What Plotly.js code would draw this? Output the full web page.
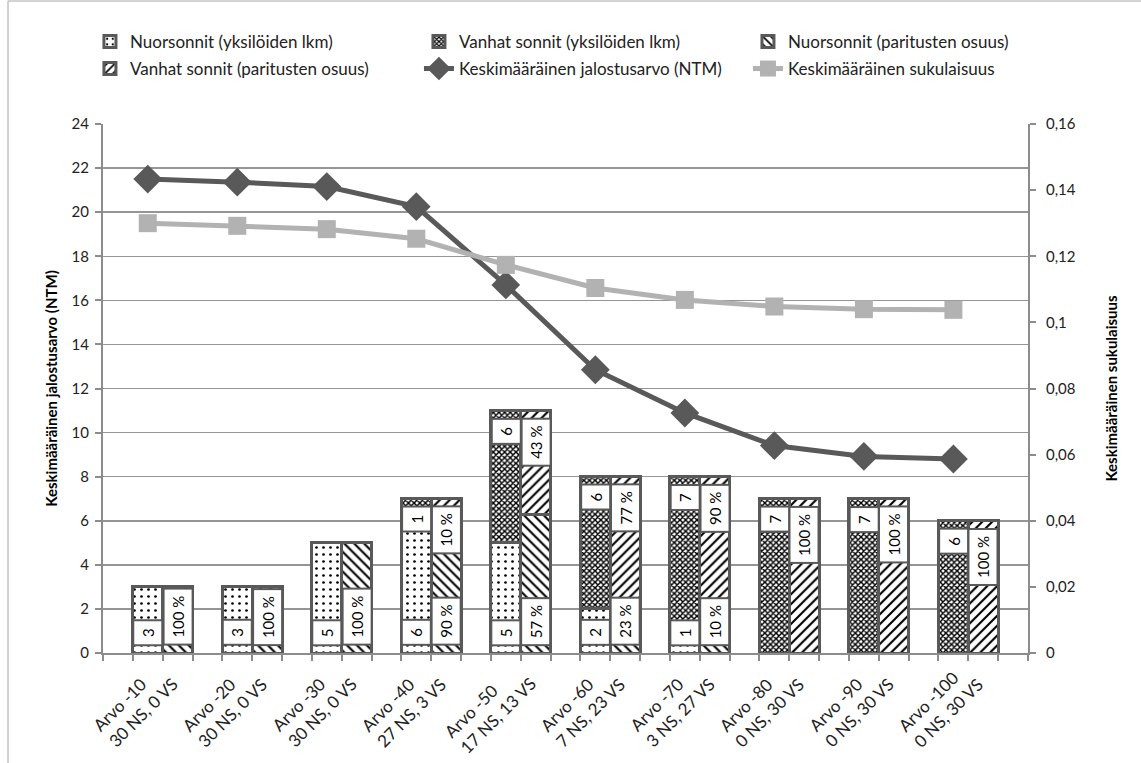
<!DOCTYPE html>
<html><head><meta charset="utf-8">
<script src="https://cdn.plot.ly/plotly-3.0.1.min.js"></script>
<style>html,body{margin:0;padding:0;background:#fff;} #chart{width:1141px;height:763px;}</style>
</head><body><div id="chart"></div>
<script>
const groupNames = ['Arvo -10','Arvo -20','Arvo -30','Arvo -40','Arvo -50','Arvo -60','Arvo -70','Arvo -80','Arvo -90','Arvo -100'];
const groupSub = ['30 NS, 0 VS','30 NS, 0 VS','30 NS, 0 VS','27 NS, 3 VS','17 NS, 13 VS','7 NS, 23 VS','3 NS, 27 VS','0 NS, 30 VS','0 NS, 30 VS','0 NS, 30 VS'];
const nsCount = [3,3,5,6,5,2,1,0,0,0];
const vsCount = [0,0,0,1,6,6,7,7,7,6];
const nsShare = [100,100,100,90,57,23,10,0,0,0];
const vsShare = [0,0,0,10,43,77,90,100,100,100];
const ntm = [21.50,21.36,21.16,20.25,16.70,12.85,10.89,9.41,8.92,8.80];
const suku = [0.1300,0.1292,0.1282,0.1253,0.1174,0.1104,0.1068,0.1048,0.1040,0.1038];
const yLeftTicks = [0,2,4,6,8,10,12,14,16,18,20,22,24];
const yRightTicks = [0,0.02,0.04,0.06,0.08,0.1,0.12,0.14,0.16];
const yRightLabels = ['0','0,02','0,04','0,06','0,08','0,1','0,12','0,14','0,16'];

const FONT = 'Lato, "Open Sans", sans-serif';
const n = groupNames.length;
const xLeft = groupNames.map((_, i) => 3 * i + 1);
const xRight = groupNames.map((_, i) => 3 * i + 2);
const totals = nsCount.map((v, i) => v + vsCount[i]);
const nsShareH = nsShare.map((p, i) => p / 100 * totals[i]);
const vsShareH = vsShare.map((p, i) => p / 100 * totals[i]);

const outline = {color: '#595959', width: 3};
const traces = [
  {type: 'bar', name: 'Nuorsonnit (yksilöiden lkm)', x: xLeft, y: nsCount, width: 1,
   marker: {color: '#fff', line: outline, pattern: {shape: '.', fgcolor: '#000', bgcolor: '#fff', size: 7, solidity: 0.12}},
   legend: 'legend'},
  {type: 'bar', name: 'Vanhat sonnit (yksilöiden lkm)', x: xLeft, y: vsCount, width: 1,
   marker: {color: '#fff', line: outline, pattern: {shape: 'x', fgcolor: '#000', bgcolor: '#fff', size: 4, solidity: 0.6}},
   legend: 'legend'},
  {type: 'bar', name: 'Nuorsonnit (paritusten osuus)', x: xRight, y: nsShareH, width: 1,
   marker: {color: '#fff', line: outline, pattern: {shape: '\\', fgcolor: '#000', bgcolor: '#fff', size: 7, solidity: 0.3}},
   legend: 'legend'},
  {type: 'bar', name: 'Vanhat sonnit (paritusten osuus)', x: xRight, y: vsShareH, width: 1,
   marker: {color: '#fff', line: outline, pattern: {shape: '/', fgcolor: '#000', bgcolor: '#fff', size: 7, solidity: 0.3}},
   legend: 'legend2'},
  {type: 'scatter', mode: 'lines+markers', name: 'Keskimääräinen jalostusarvo (NTM)', x: xLeft, y: ntm,
   line: {color: '#595959', width: 5}, marker: {symbol: 'diamond', size: 20, color: '#595959', line: {color: '#595959', width: 2}},
   legend: 'legend2'},
  {type: 'scatter', mode: 'lines+markers', name: 'Keskimääräinen sukulaisuus', x: xLeft, y: suku, yaxis: 'y2',
   line: {color: '#b2b2b2', width: 5}, marker: {symbol: 'square', size: 18, color: '#b2b2b2'},
   legend: 'legend2'}
];

const annotations = [];
const boxStyle = {showarrow: false, textangle: -90, bgcolor: '#fff', bordercolor: '#595959', borderwidth: 2, borderpad: 1,
  height: 25, font: {family: FONT, size: 15, color: '#000'}};
function boxWidth(t) { return t.length === 1 ? 21 : 9 * t.length + 7; }
function addBox(x, y, top, text) {
  annotations.push(Object.assign({}, boxStyle, {x: x, y: y, xref: 'x', yref: 'y',
    yanchor: top ? 'top' : 'bottom', yshift: top ? -7 : 7, text: text, width: boxWidth(text)}));
}
for (let i = 0; i < n; i++) {
  if (nsCount[i] > 0) addBox(xLeft[i], 0, false, String(nsCount[i]));
  if (vsCount[i] > 0) addBox(xLeft[i], totals[i], true, String(vsCount[i]));
  if (nsShare[i] > 0) addBox(xRight[i], 0, false, nsShare[i] + ' %');
  if (vsShare[i] > 0) addBox(xRight[i], totals[i], true, vsShare[i] + ' %');
  annotations.push({x: 3 * i + 1.5, y: 0, xref: 'x', yref: 'y', xanchor: 'right', yanchor: 'top', xshift: 22, yshift: -2,
    textangle: -45, align: 'left', showarrow: false, text: groupNames[i] + '<br>' + groupSub[i],
    font: {family: FONT, size: 17, color: '#222'}});
}

const axisColor = '#8c8c8c';
const legendCommon = {orientation: 'h', xanchor: 'left', yanchor: 'middle', entrywidth: 284, entrywidthmode: 'pixels',
  traceorder: 'normal', font: {family: FONT, size: 17, color: '#222'}, bgcolor: 'rgba(0,0,0,0)'};
const layout = {
  width: 1141, height: 763,
  margin: {l: 103, r: 113, t: 124, b: 110, pad: 0},
  paper_bgcolor: '#fff', plot_bgcolor: '#fff',
  font: {family: FONT, size: 14, color: '#222'},
  barmode: 'stack', bargap: 0,
  showlegend: true,
  legend: Object.assign({}, legendCommon, {x: -0.0141, y: 1.155}),
  legend2: Object.assign({}, legendCommon, {x: -0.0141, y: 1.104}),
  xaxis: {range: [-0.5, 30.5], showgrid: false, zeroline: false, showline: true, linecolor: axisColor, linewidth: 2,
    ticks: 'outside', tick0: 0.5, dtick: 1, ticklen: 6, tickwidth: 2, tickcolor: axisColor, showticklabels: false, fixedrange: true},
  yaxis: {range: [0, 24], tickvals: yLeftTicks, showgrid: true, gridcolor: '#959595', gridwidth: 1.5, zeroline: false,
    showline: true, linecolor: axisColor, linewidth: 2, ticks: 'outside', ticklen: 6, tickwidth: 2, tickcolor: axisColor,
    tickfont: {family: FONT, size: 15, color: '#222'}, ticklabelstandoff: 3,
    title: {text: '<b>Keskimääräinen jalostusarvo (NTM)</b>', font: {family: FONT, size: 15, color: '#000'}, standoff: 10}},
  yaxis2: {overlaying: 'y', side: 'right', range: [0, 0.16], tickvals: yRightTicks, ticktext: yRightLabels, showgrid: false, zeroline: false,
    showline: true, linecolor: axisColor, linewidth: 2, ticks: 'outside', ticklen: 6, tickwidth: 2, tickcolor: axisColor,
    tickfont: {family: FONT, size: 15, color: '#222'}, ticklabelstandoff: 7,
    title: {text: '<b>Keskimääräinen sukulaisuus</b>', font: {family: FONT, size: 15, color: '#000'}, standoff: 32}},
  annotations: annotations,
  shapes: [
    {type: 'line', xref: 'paper', yref: 'paper', x0: -0.1027, x1: -0.1027, y0: -0.21, y1: 1.2325, line: {color: '#a6a6a6', width: 1}},
    {type: 'line', xref: 'paper', yref: 'paper', x0: -0.1027, x1: 1.13, y0: 1.2325, y1: 1.2325, line: {color: '#a6a6a6', width: 1}}
  ]
};
Plotly.newPlot('chart', traces, layout, {displayModeBar: false, staticPlot: true});
</script>
</body></html>
